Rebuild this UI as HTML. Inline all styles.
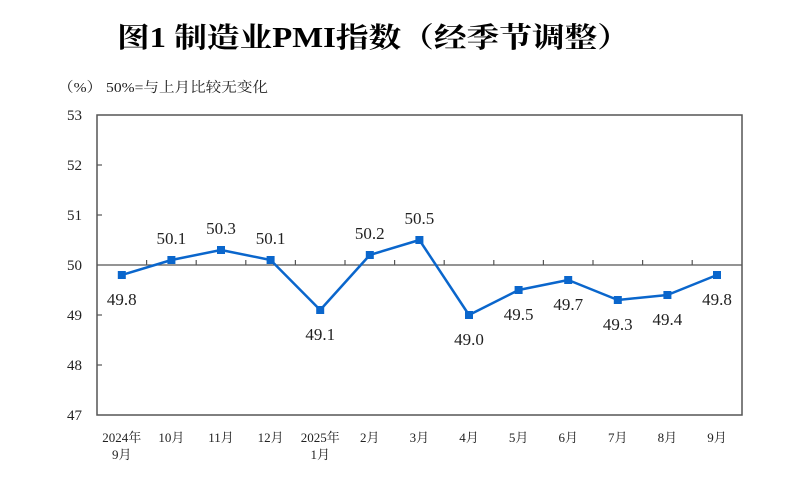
<!DOCTYPE html>
<html><head><meta charset="utf-8"><style>
html,body{margin:0;padding:0;background:#fff;}
svg{display:block;}
text{font-family:"Liberation Serif","Noto Serif CJK SC","Noto Sans CJK SC",serif;fill:#222;}
</style></head><body>
<svg width="795" height="485" viewBox="0 0 795 485" xmlns="http://www.w3.org/2000/svg">
<text x="117" y="47" font-size="28" font-weight="bold" style="fill:#000" textLength="513" lengthAdjust="spacingAndGlyphs">图1 制造业PMI指数（经季节调整）</text>
<text x="58" y="92" font-size="14" textLength="210" lengthAdjust="spacingAndGlyphs">（%） 50%=与上月比较无变化</text>
<rect x="97" y="115" width="645" height="300" fill="none" stroke="#555" stroke-width="1.5"/>
<g stroke="#555" stroke-width="1.2">
<line x1="97" y1="165" x2="102" y2="165"/><line x1="97" y1="215" x2="102" y2="215"/>
<line x1="97" y1="315" x2="102" y2="315"/><line x1="97" y1="365" x2="102" y2="365"/>
<line x1="97" y1="265" x2="742" y2="265"/>
</g>
<g stroke="#555" stroke-width="1.2" id="t"></g>
<g font-size="15" text-anchor="end">
<text x="82" y="120">53</text><text x="82" y="170">52</text><text x="82" y="220">51</text>
<text x="82" y="270">50</text><text x="82" y="320">49</text><text x="82" y="370">48</text><text x="82" y="420">47</text>
</g>
<g id="g"></g>
<script>
var v=[49.8,50.1,50.3,50.1,49.1,50.2,50.5,49.0,49.5,49.7,49.3,49.4,49.8];
var up=[0,1,1,1,0,1,1,0,0,0,0,0,0];
var lab=["2024年|9月","10月","11月","12月","2025年|1月","2月","3月","4月","5月","6月","7月","8月","9月"];
var ns="http://www.w3.org/2000/svg",g=document.getElementById('g'),t=document.getElementById('t');
function el(n,a,p){var e=document.createElementNS(ns,n);for(var k in a)e.setAttribute(k,a[k]);(p||g).appendChild(e);return e;}
for(var k=1;k<13;k++){var x=97+k*49.6;el('line',{x1:x,y1:260,x2:x,y2:265},t);}
var pts=[];
v.forEach(function(d,i){var x=97+24.8+i*49.6,y=265-(d-50)*50;pts.push(x+','+y);});
el('polyline',{points:pts.join(' '),fill:'none',stroke:'#0a66cc','stroke-width':2.5,'stroke-linejoin':'round'});
v.forEach(function(d,i){var x=97+24.8+i*49.6,y=265-(d-50)*50;
el('rect',{x:x-4,y:y-4,width:8,height:8,fill:'#0a66cc'});
var tx=el('text',{x:x,y:up[i]?y-16:y+30,'font-size':17,'text-anchor':'middle'});tx.textContent=d.toFixed(1);
var ls=lab[i].split('|');ls.forEach(function(s,j){var e=el('text',{x:x,y:442+j*17,'font-size':13,'text-anchor':'middle'});e.textContent=s;});
});
</script>
</svg>
</body></html>
